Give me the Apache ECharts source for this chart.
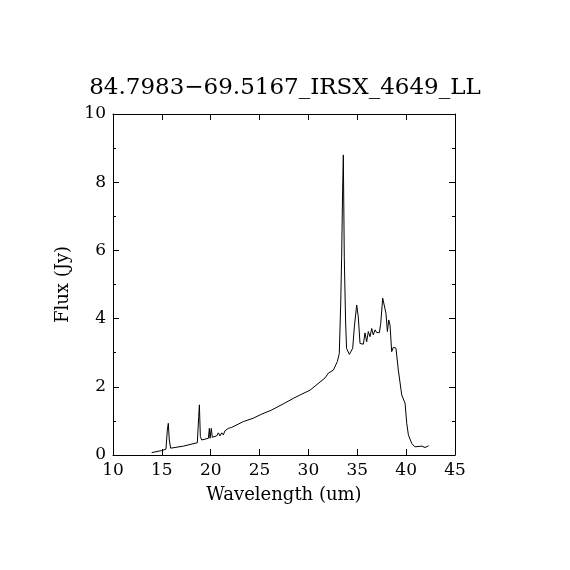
<!DOCTYPE html>
<html>
<head>
<meta charset="utf-8">
<script src="https://cdn.jsdelivr.net/npm/echarts@6/dist/echarts.min.js"></script>
<style>
  html, body { margin: 0; padding: 0; background: #fff; }
  #chart { width: 570px; height: 570px; }
</style>
</head>
<body>
<div id="chart"></div>
<script>
let chartTitle = '84.7983\u221269.5167_IRSX_4649_LL';
let wavelength = [
    13.96, 14.98, 15.42, 15.56, 15.66, 15.76, 15.9, 17.2, 18.63, 18.77,
    18.84, 18.94, 19.08, 19.76, 19.86, 19.93, 20.06, 20.16, 20.61, 20.78,
    20.95, 21.13, 21.29, 21.46, 21.8, 22.15, 23.34, 24.36, 25.22, 26.24,
    27.43, 28.45, 29.14, 30.16, 31.7, 32.04, 32.55, 32.96, 33.16, 33.3,
    33.4, 33.5, 33.57, 33.67, 33.8, 33.9, 34.19, 34.53, 34.7, 34.94,
    35.1, 35.28, 35.62, 35.79, 35.96, 36.13, 36.3, 36.48, 36.64, 36.82,
    36.99, 37.26, 37.4, 37.6, 37.77, 37.94, 38.08, 38.22, 38.35, 38.52,
    38.69, 38.96, 39.2, 39.55, 39.89, 40.06, 40.23, 40.57, 40.9, 41.6,
    41.93, 42.3
];
let flux = [
    0.07, 0.13, 0.17, 0.73, 0.93, 0.44, 0.2, 0.26, 0.36, 1.12,
    1.47, 0.54, 0.44, 0.49, 0.78, 0.49, 0.78, 0.52, 0.56, 0.65,
    0.56, 0.65, 0.59, 0.71, 0.78, 0.81, 0.98, 1.08, 1.2, 1.32,
    1.5, 1.66, 1.76, 1.9, 2.26, 2.4, 2.49, 2.74, 2.98, 4.4,
    5.8, 7.77, 8.8, 5.8, 3.96, 3.13, 2.95, 3.13, 3.76, 4.4,
    4.06, 3.27, 3.25, 3.58, 3.32, 3.62, 3.47, 3.71, 3.52, 3.67,
    3.59, 3.59, 3.86, 4.6, 4.6, 4.15, 3.62, 3.96, 3.81, 3.03,
    3.16, 3.13, 2.49, 1.76, 1.52, 0.93, 0.59, 0.34, 0.24, 0.26,
    0.22, 0.27
];
let xTicks = [10, 15, 20, 25, 30, 35, 40, 45];
let yTicks = [0, 2, 4, 6, 8, 10];

let fontFamily = 'DejaVu Serif';
let points = wavelength.map((w, i) => [w, flux[i]]);

function axisBase() {
    return {
        axisLine: { show: true, onZero: false, lineStyle: { color: '#000', width: 1 } },
        axisTick: { show: true, inside: true, length: 6, lineStyle: { color: '#000' } },
        splitLine: { show: false },
        axisLabel: { color: '#000', fontFamily: fontFamily, fontSize: 17 }
    };
}

let xBottom = Object.assign(axisBase(), {
    type: 'value', position: 'bottom', min: xTicks[0], max: xTicks[xTicks.length - 1], interval: 5,
    name: 'Wavelength (um)', nameLocation: 'center', nameGap: 31,
    nameTextStyle: { color: '#000', fontFamily: fontFamily, fontSize: 18 }
});
xBottom.axisLabel.margin = 7;
let xTop = Object.assign(axisBase(), {
    type: 'value', position: 'top', min: xTicks[0], max: xTicks[xTicks.length - 1], interval: 5
});
xTop.axisLabel = { show: false };

let yLeft = Object.assign(axisBase(), {
    type: 'value', position: 'left', min: yTicks[0], max: yTicks[yTicks.length - 1], interval: 2,
    minorTick: { show: true, splitNumber: 2, length: 3, lineStyle: { color: '#000' } },
    name: 'Flux (Jy)', nameLocation: 'center', nameGap: 41, nameRotate: 90,
    nameTextStyle: { color: '#000', fontFamily: fontFamily, fontSize: 18 }
});
yLeft.axisLabel.margin = 7;
let yRight = Object.assign(axisBase(), {
    type: 'value', position: 'right', min: yTicks[0], max: yTicks[yTicks.length - 1], interval: 2,
    minorTick: { show: true, splitNumber: 2, length: 3, lineStyle: { color: '#000' } }
});
yRight.axisLabel = { show: false };

let chart = echarts.init(document.getElementById('chart'));
chart.setOption({
    backgroundColor: '#fff',
    animation: false,
    title: {
        text: chartTitle,
        left: 'center',
        top: 72,
        textStyle: { color: '#000', fontFamily: fontFamily, fontSize: 23, fontWeight: 'normal' }
    },
    grid: { left: 113, right: 115, top: 114, bottom: 115 },
    xAxis: [xBottom, xTop],
    yAxis: [yLeft, yRight],
    series: [
        {
            type: 'line',
            data: points,
            showSymbol: false,
            lineStyle: { color: '#000', width: 1 },
            xAxisIndex: 0,
            yAxisIndex: 0
        }
    ]
});
</script>
</body>
</html>
